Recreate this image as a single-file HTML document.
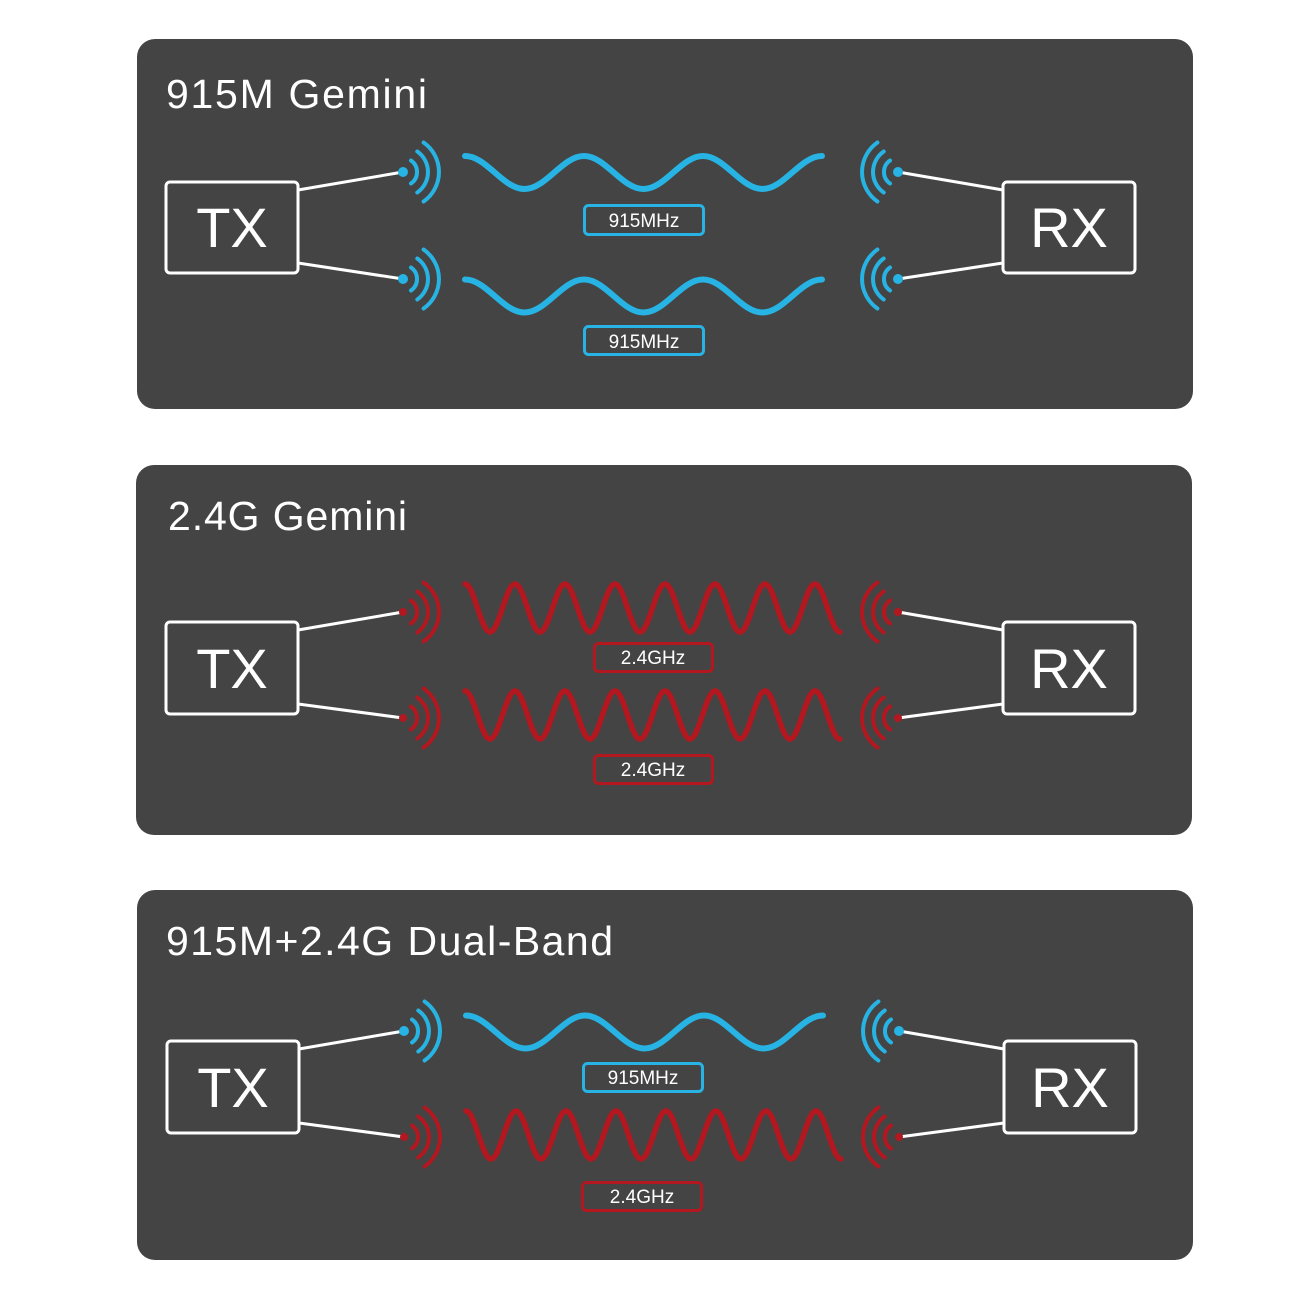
<!DOCTYPE html>
<html><head><meta charset="utf-8"><style>
html,body{margin:0;padding:0;background:#fff;}
svg{display:block;}
</style></head><body>
<svg width="1300" height="1299" viewBox="0 0 1300 1299" xmlns="http://www.w3.org/2000/svg" font-family="Liberation Sans, sans-serif">
<defs>
<path id="bw" d="M0,-16.5 C21.7,-16.5 37.8,16.5 59.5,16.5 S97.3,-16.5 119,-16.5 S156.8,16.5 178.5,16.5 S216.3,-16.5 238,-16.5 S275.8,16.5 297.5,16.5 S335.3,-16.5 357,-16.5" fill="none" stroke="#27b4e4" stroke-width="6" stroke-linecap="round"/>
<path id="rw" d="M0,-24 C9.1,-24 15.9,24 25,24 S40.9,-24 50,-24 S65.9,24 75,24 S90.9,-24 100,-24 S115.9,24 125,24 S140.9,-24 150,-24 S165.9,24 175,24 S190.9,-24 200,-24 S215.9,24 225,24 S240.9,-24 250,-24 S265.9,24 275,24 S290.9,-24 300,-24 S315.9,24 325,24 S340.9,-24 350,-24 S365.9,24 375,24" fill="none" stroke="#b3171f" stroke-width="5.5" stroke-linecap="round"/>
<g id="ba" fill="none" stroke="#27b4e4" stroke-width="4" stroke-linecap="round">
<circle cx="0" cy="0" r="5" fill="#27b4e4" stroke="none"/>
<path d="M8,-11.5 A14,14 0 0 1 8,11.5"/>
<path d="M14.3,-20.5 A25,25 0 0 1 14.3,20.5"/>
<path d="M20.6,-29.5 A36,36 0 0 1 20.6,29.5"/>
</g>
<g id="ra" fill="none" stroke="#b3171f" stroke-width="4" stroke-linecap="round">
<circle cx="0" cy="0" r="4" fill="#b3171f" stroke="none"/>
<path d="M8,-11.5 A14,14 0 0 1 8,11.5"/>
<path d="M14.3,-20.5 A25,25 0 0 1 14.3,20.5"/>
<path d="M20.6,-29.5 A36,36 0 0 1 20.6,29.5"/>
</g>
</defs>

<!-- Panel 1 -->
<rect x="137" y="39" width="1056" height="370" rx="18" fill="#444444"/>
<text x="166" y="108" fill="#fff" font-size="41" textLength="261">915M Gemini</text>
<g stroke="#fff" stroke-width="3" fill="none">
<rect x="166" y="182" width="132" height="91" rx="4"/>
<rect x="1003" y="182" width="132" height="91" rx="4"/>
<line x1="298" y1="190" x2="403" y2="172"/><line x1="298" y1="263" x2="403" y2="279"/>
<line x1="1003" y1="190" x2="898" y2="172"/><line x1="1003" y1="263" x2="898" y2="279"/>
</g>
<text x="232" y="247" fill="#fff" font-size="56" text-anchor="middle">TX</text>
<text x="1069" y="247" fill="#fff" font-size="56" text-anchor="middle">RX</text>
<use href="#ba" transform="translate(403,172)"/><use href="#ba" transform="translate(403,279)"/>
<use href="#ba" transform="translate(898,172) scale(-1,1)"/><use href="#ba" transform="translate(898,279) scale(-1,1)"/>
<use href="#bw" transform="translate(465,172.5)"/><use href="#bw" transform="translate(465,296)"/>
<rect x="584.5" y="205.5" width="119" height="29" rx="4" fill="none" stroke="#27b4e4" stroke-width="3"/>
<text x="644" y="227" fill="#fff" font-size="19" text-anchor="middle">915MHz</text>
<rect x="584.5" y="326.5" width="119" height="28" rx="4" fill="none" stroke="#27b4e4" stroke-width="3"/>
<text x="644" y="348" fill="#fff" font-size="19" text-anchor="middle">915MHz</text>

<!-- Panel 2 -->
<rect x="136" y="465" width="1056" height="370" rx="18" fill="#444444"/>
<text x="168" y="530" fill="#fff" font-size="41" textLength="239">2.4G Gemini</text>
<g stroke="#fff" stroke-width="3" fill="none">
<rect x="166" y="622" width="132" height="92" rx="4"/>
<rect x="1003" y="622" width="132" height="92" rx="4"/>
<line x1="298" y1="630" x2="403" y2="612"/><line x1="298" y1="704" x2="403" y2="718"/>
<line x1="1003" y1="630" x2="898" y2="612"/><line x1="1003" y1="704" x2="898" y2="718"/>
</g>
<text x="232" y="688" fill="#fff" font-size="56" text-anchor="middle">TX</text>
<text x="1069" y="688" fill="#fff" font-size="56" text-anchor="middle">RX</text>
<use href="#ra" transform="translate(403,612)"/><use href="#ra" transform="translate(403,718)"/>
<use href="#ra" transform="translate(898,612) scale(-1,1)"/><use href="#ra" transform="translate(898,718) scale(-1,1)"/>
<use href="#rw" transform="translate(465,608)"/><use href="#rw" transform="translate(465,715)"/>
<rect x="594.5" y="643.5" width="118" height="28" rx="4" fill="none" stroke="#b3171f" stroke-width="3"/>
<text x="653" y="664" fill="#fff" font-size="19" text-anchor="middle">2.4GHz</text>
<rect x="594.5" y="755.5" width="118" height="28" rx="4" fill="none" stroke="#b3171f" stroke-width="3"/>
<text x="653" y="776" fill="#fff" font-size="19" text-anchor="middle">2.4GHz</text>

<!-- Panel 3 -->
<rect x="137" y="890" width="1056" height="370" rx="18" fill="#444444"/>
<text x="166" y="955" fill="#fff" font-size="41" textLength="447">915M+2.4G Dual-Band</text>
<g stroke="#fff" stroke-width="3" fill="none">
<rect x="167" y="1041" width="132" height="92" rx="4"/>
<rect x="1004" y="1041" width="132" height="92" rx="4"/>
<line x1="299" y1="1049" x2="404" y2="1031"/><line x1="299" y1="1123" x2="404" y2="1137"/>
<line x1="1004" y1="1049" x2="899" y2="1031"/><line x1="1004" y1="1123" x2="899" y2="1137"/>
</g>
<text x="233" y="1107" fill="#fff" font-size="56" text-anchor="middle">TX</text>
<text x="1070" y="1107" fill="#fff" font-size="56" text-anchor="middle">RX</text>
<use href="#ba" transform="translate(404,1031)"/><use href="#ra" transform="translate(404,1137)"/>
<use href="#ba" transform="translate(899,1031) scale(-1,1)"/><use href="#ra" transform="translate(899,1137) scale(-1,1)"/>
<use href="#bw" transform="translate(466,1032)"/><use href="#rw" transform="translate(466,1135)"/>
<rect x="583.5" y="1063.5" width="119" height="28" rx="4" fill="none" stroke="#27b4e4" stroke-width="3"/>
<text x="643" y="1084" fill="#fff" font-size="19" text-anchor="middle">915MHz</text>
<rect x="582.5" y="1182.5" width="119" height="28" rx="4" fill="none" stroke="#b3171f" stroke-width="3"/>
<text x="642" y="1203" fill="#fff" font-size="19" text-anchor="middle">2.4GHz</text>
</svg>
</body></html>
